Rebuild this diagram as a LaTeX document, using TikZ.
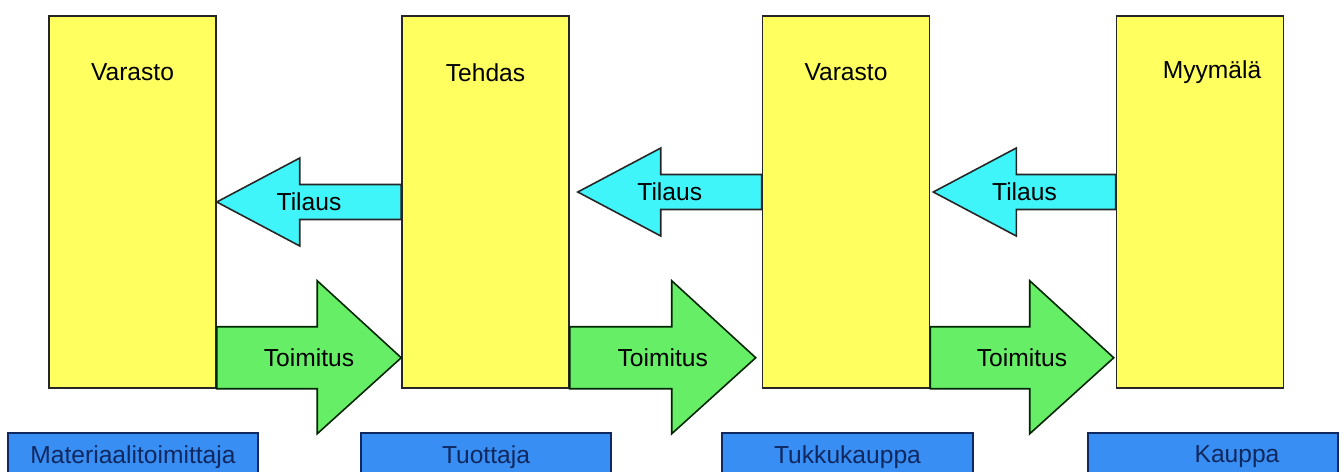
\documentclass[tikz,border=0pt]{standalone}
\usepackage{fontspec}
\setmainfont{Liberation Sans}
\definecolor{keltainen}{RGB}{255,255,96}
\definecolor{syaani}{RGB}{64,245,250}
\definecolor{vihrea}{RGB}{102,238,102}
\definecolor{sininen}{RGB}{56,142,242}
\definecolor{tumma}{RGB}{16,40,96}
\tikzset{
  lohko/.style={draw=black!85, fill=keltainen, line width=0.9pt, minimum width=3.34cm, minimum height=7.44cm},
  osa/.style={draw=tumma, fill=sininen, line width=0.9pt, minimum width=5cm, minimum height=0.96cm, text=tumma},
  tilaus/.style={draw=black!85, fill=syaani, line width=0.9pt},
  toimitus/.style={draw=black!85!green, fill=vihrea, line width=0.9pt},
}

\begin{document}
\begin{tikzpicture}[x=0.02cm,y=-0.02cm,font=\fontsize{14}{16}\selectfont]
\clip (0,0) rectangle (1344,471);
% toimitusketjun varastot
\node[lohko] (varasto1) at (132.5,202) {};
\node[lohko] (tehdas) at (485.5,202) {};
\node[lohko] (varasto2) at (846,202) {};
\node[lohko] (myymala) at (1200,202) {};
\node (n1) at ([yshift=-1.14cm]varasto1.north) {Varasto};
\node (n2) at ([yshift=-1.14cm]tehdas.north) {Tehdas};
\node (n3) at ([yshift=-1.14cm]varasto2.north) {Varasto};
\node (n4) at ([shift={(12,57)}]myymala.north) {Myymälä};
% tilaukset vasemmalle
\foreach \a/\b/\dx/\dy in {varasto1/tehdas/0/0, tehdas/varasto2/8/-10, varasto2/myymala/3/-10}
{\draw[tilaus] ([shift={(\dx,\dy)}]\a.east) coordinate (k) -- ++(83,-44) -- ++(0,26.5) coordinate (h) -- (h -| \b.west) -- ++(0,35) coordinate (g) -- (g -| h) -- ++(0,26.5) -- cycle;
 \path (k) -- (k -| \b.west) node[midway] (t\a) {Tilaus};}
% toimitukset oikealle
\foreach \a/\b/\dx in {varasto1/tehdas/0, tehdas/varasto2/-6, varasto2/myymala/-2}
{\draw[toimitus] ([shift={(\dx,-31)}]\b.south west) coordinate (k) -- ++(-84,-77) -- ++(0,46) coordinate (h) -- (h -| \a.east) -- (\a.south east) -- (\a.south east -| h) -- ++(0,45) -- cycle;
 \path (k -| \a.east) -- (k) node[midway] (m\a) {Toimitus};}
% osapuolet
\node[osa] (materiaali) at (133,457) {Materiaalitoimittaja};
\node[osa] (tuottaja) at (486,457) {Tuottaja};
\node[osa, minimum width=5.02cm] (tukku) at (847.5,457) {Tukkukauppa};
\node[osa] (kauppa) at (1213,457) {};
\node[text=tumma] (kauppateksti) at ([xshift=0.48cm]kauppa.center) {Kauppa};
\end{tikzpicture}
\end{document}
